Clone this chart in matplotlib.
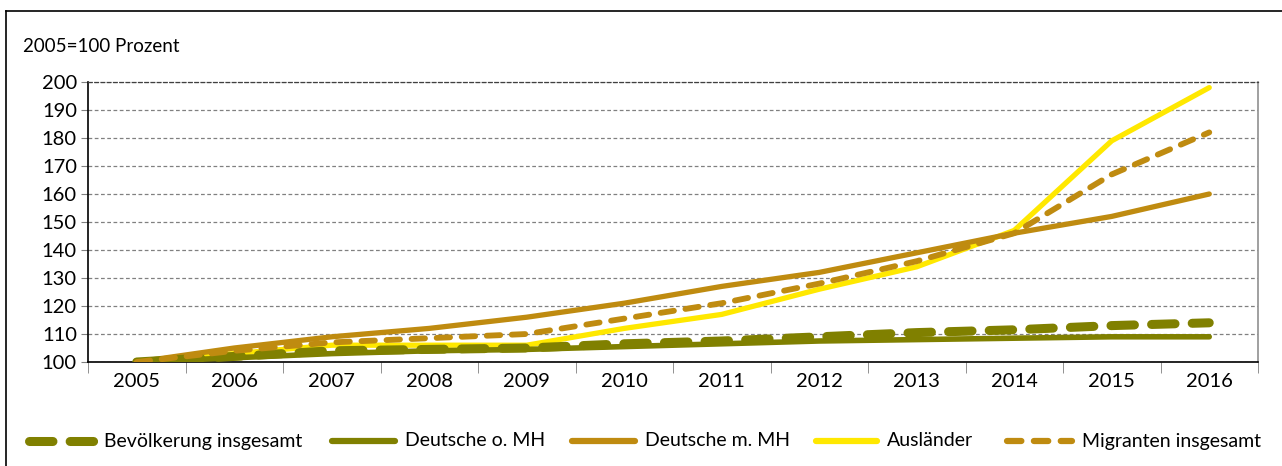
import matplotlib.pyplot as plt
from matplotlib.lines import Line2D
import numpy as np

plt.rcParams['font.family'] = ['Lato', 'DejaVu Sans']

years = ['2005', '2006', '2007', '2008', '2009', '2010', '2011', '2012', '2013', '2014', '2015', '2016']
bevoelkerung = [100, 102, 104, 104.5, 105, 106.5, 107.5, 109, 110.5, 111.5, 113, 114]
deutsche_ohne = [100, 101.5, 103, 104, 104.5, 105.5, 106.5, 107.5, 108, 108.5, 109, 109]
deutsche_mit = [100, 105, 109, 112, 116, 121, 127, 132, 139, 146, 152, 160]
auslaender = [100, 103, 106, 106, 106, 112, 117, 126, 134, 147, 179, 198]
migranten = [100, 104, 107, 108.5, 110, 115.5, 121, 128, 136, 146, 167, 182]
labels = ['Bevölkerung insgesamt', 'Deutsche o. MH', 'Deutsche m. MH', 'Ausländer', 'Migranten insgesamt']

olive = '#808000'
brown = '#BF8B10'
yellow = '#FFE800'

# (color, linewidth, dashes) per series, same order as labels
styles = [
    (olive, 6.5, (2.6, 1.9)),
    (olive, 4.0, None),
    (brown, 3.8, None),
    (yellow, 3.8, None),
    (brown, 4.2, (2.3, 2.0)),
]
series = [bevoelkerung, deutsche_ohne, deutsche_mit, auslaender, migranten]
zorders = [4, 3, 3, 2, 4]

fig = plt.figure(figsize=(12.82, 4.66), dpi=100)
W, H = 1282, 466
ax = fig.add_axes([88/W, 1-362/H, 1170/W, 280/H])

x = np.arange(len(years))
for vals, (c, lw, d), z in zip(series, styles, zorders):
    if d is None:
        ax.plot(x, vals, color=c, lw=lw, solid_capstyle='round', solid_joinstyle='round', zorder=z)
    else:
        ax.plot(x, vals, color=c, lw=lw, dashes=d, dash_capstyle='round', zorder=z)

ax.set_xlim(-0.5, len(years) - 0.5)
ax.set_ylim(100, 200)
ax.set_yticks(np.arange(100, 201, 10))
ax.set_xticks(x)
ax.set_xticklabels(years)
ax.set_xticks(np.arange(-0.5, len(years), 1), minor=True)
ax.tick_params(axis='x', which='major', length=0, pad=8, labelsize=14.5)
ax.tick_params(axis='x', which='minor', length=8, color='#808080', direction='out')
ax.tick_params(axis='y', length=5, color='#808080', labelsize=14.5, pad=3)
ax.yaxis.grid(True, color='#808080', ls=(0, (3, 2)), lw=0.9)
ax.set_axisbelow(True)
for s in ['left', 'bottom']:
    ax.spines[s].set_color('black')
    ax.spines[s].set_linewidth(1.2)
ax.spines['top'].set_color('#404040')
ax.spines['top'].set_linewidth(0.9)
ax.spines['top'].set_linestyle((0, (3, 2)))
ax.spines['right'].set_color('#909090')
ax.spines['right'].set_linewidth(1.2)

fig.text(23/W, 1-46/H, '2005=100 Prozent', fontsize=13.5, va='center', ha='left')

# outer chart frame (left and top edges visible)
fig.add_artist(Line2D([5.5/W, 5.5/W], [0, 1-11/H], color='black', lw=1.2, transform=fig.transFigure))
fig.add_artist(Line2D([5.5/W, 1], [1-11/H, 1-11/H], color='black', lw=1.2, transform=fig.transFigure))

# legend laid out by hand, one entry per series
leg_x = [(29, 94), (332, 395), (572, 635), (816, 877), (1007, 1072)]
leg_y = 1 - 441/H
for (x0, x1), lab, (c, lw, d) in zip(leg_x, labels, styles):
    kw = dict(color=c, lw=max(lw, 4.5), transform=fig.transFigure)
    if d is None:
        kw['solid_capstyle'] = 'round'
    else:
        kw['dashes'] = d
        kw['dash_capstyle'] = 'round'
    fig.add_artist(Line2D([x0/W, x1/W], [leg_y, leg_y], **kw))
    fig.text((x1 + 10)/W, leg_y, lab, fontsize=14, va='center', ha='left')

fig.savefig('out.png', dpi=100)
